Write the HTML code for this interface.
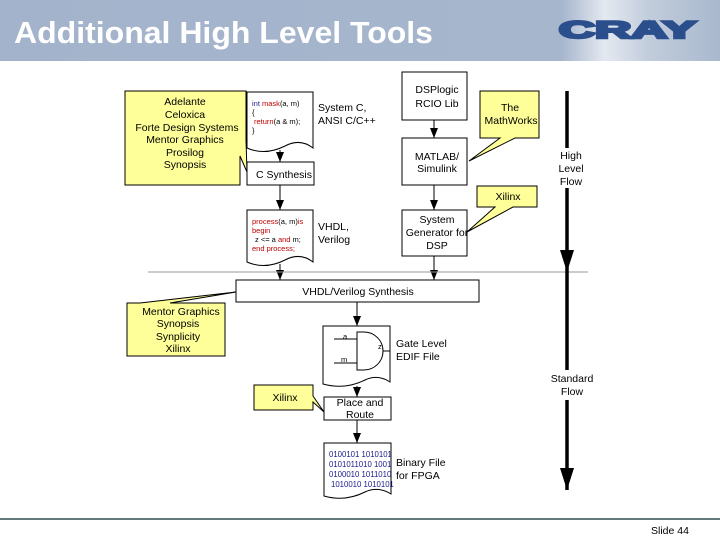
<!DOCTYPE html>
<html><head><meta charset="utf-8"><style>
html,body{margin:0;padding:0;background:#fff;}
svg{display:block;font-family:"Liberation Sans",Arial,sans-serif;}
</style></head><body>
<svg width="720" height="540" viewBox="0 0 720 540" xmlns="http://www.w3.org/2000/svg">
<defs>
<linearGradient id="hg" x1="0" x2="1" y1="0" y2="0">
<stop offset="0" stop-color="#a3b3cb"/><stop offset="0.78" stop-color="#a6b6cd"/>
<stop offset="0.84" stop-color="#e4e9f0"/><stop offset="0.9" stop-color="#c2cddc"/><stop offset="1" stop-color="#a9b8ce"/>
</linearGradient>
<marker id="ar" markerWidth="10" markerHeight="8" refX="10" refY="4" orient="auto" markerUnits="userSpaceOnUse">
<path d="M0,0 L10,4 L0,8 Z" fill="#000"/></marker>
<marker id="ab" markerWidth="22" markerHeight="14" refX="22" refY="7" orient="auto" markerUnits="userSpaceOnUse">
<path d="M0,0 L22,7 L0,14 Z" fill="#000"/></marker>
</defs>
<rect x="0" y="0" width="720" height="61" fill="url(#hg)"/>
<text x="14" y="43" font-size="31" font-weight="bold" fill="#fff" textLength="419" lengthAdjust="spacingAndGlyphs">Additional High Level Tools</text>
<text x="559" y="38" font-size="24" font-weight="900" fill="#2b4f8c" stroke="#2b4f8c" stroke-width="2.5" textLength="137" lengthAdjust="spacingAndGlyphs">CRAY</text>

<g stroke="#000" stroke-width="1" fill="#fff" font-size="10.5">
<path d="M125,91 H246 V140 L247,172 L240,156 V185 H125 Z" fill="#ffff99"/>
<path d="M247,92 H313 V148 Q300,138 285,146 Q265,156 247,148 Z"/>
<rect x="247" y="162" width="67" height="23"/>
<path d="M247,210 H313 V262 Q300,252 285,260 Q265,270 247,262 Z"/>
<rect x="402" y="72" width="65" height="48"/>
<rect x="402" y="138" width="65" height="47"/>
<rect x="402" y="210" width="65" height="46"/>
<path d="M480,91 H539 V138 H515 L469,161 L500,138 H480 Z" fill="#ffff99"/>
<path d="M477,186 H537 V207 H513 L467,232 L495,207 H477 Z" fill="#ffff99"/>
<rect x="236" y="280" width="243" height="22"/>
<path d="M127,303 H140 L236,292 L170,303 H225 V356 H127 Z" fill="#ffff99"/>
<path d="M323,326 H390 V382 Q378,374 365,380 Q345,390 323,384 Z"/>
<rect x="324" y="397" width="67" height="23"/>
<path d="M254,385 H313 V396 L324,412 L313,402 V410 H254 Z" fill="#ffff99"/>
<path d="M324,443 H391 V494 Q378,486 365,492 Q345,502 324,496 Z"/>
</g>
<g stroke="#000" stroke-width="1" fill="none">
<line x1="280" y1="150" x2="280" y2="162" marker-end="url(#ar)"/>
<line x1="280" y1="185" x2="280" y2="210" marker-end="url(#ar)"/>
<line x1="280" y1="264" x2="280" y2="280" marker-end="url(#ar)"/>
<line x1="434" y1="120" x2="434" y2="138" marker-end="url(#ar)"/>
<line x1="434" y1="185" x2="434" y2="210" marker-end="url(#ar)"/>
<line x1="434" y1="256" x2="434" y2="280" marker-end="url(#ar)"/>
<line x1="357" y1="302" x2="357" y2="326" marker-end="url(#ar)"/>
<line x1="357" y1="386" x2="357" y2="397" marker-end="url(#ar)"/>
<line x1="357" y1="420" x2="357" y2="443" marker-end="url(#ar)"/>
<line x1="334" y1="339" x2="357" y2="339"/><line x1="334" y1="363" x2="357" y2="363"/>
<path d="M357,332 H364 A19,19 0 0 1 364,370 H357 Z"/>
<line x1="383" y1="351" x2="390" y2="351"/>
</g>
<line x1="148" y1="272" x2="588" y2="272" stroke="#999" stroke-width="1"/>
<line x1="0" y1="519" x2="720" y2="519" stroke="#2f4f4f" stroke-width="1.5"/>
<g stroke="#000" stroke-width="3.5">
<line x1="567" y1="91" x2="567" y2="148"/>
<line x1="567" y1="188" x2="567" y2="272" marker-end="url(#ab)"/>
<line x1="567" y1="272" x2="567" y2="370"/>
<line x1="567" y1="400" x2="567" y2="490" marker-end="url(#ab)"/>
</g>
<g font-size="10.5" fill="#000" text-anchor="middle">
<text x="185" y="105">Adelante</text><text x="185" y="118">Celoxica</text>
<text x="187" y="131">Forte Design Systems</text><text x="185" y="143">Mentor Graphics</text>
<text x="185" y="156">Prosilog</text><text x="185" y="168">Synopsis</text>
<text x="284" y="178">C Synthesis</text>
<text x="437" y="93">DSPlogic</text><text x="437" y="107">RCIO Lib</text>
<text x="510" y="111">The</text><text x="511" y="124">MathWorks</text>
<text x="437" y="160">MATLAB/</text><text x="437" y="172">Simulink</text>
<text x="508" y="200">Xilinx</text>
<text x="437" y="223">System</text><text x="437" y="236">Generator for</text><text x="437" y="249">DSP</text>
<text x="571" y="159">High</text><text x="571" y="172">Level</text><text x="571" y="185">Flow</text>
<text x="358" y="295">VHDL/Verilog Synthesis</text>
<text x="181" y="315">Mentor Graphics</text><text x="178" y="327">Synopsis</text>
<text x="178" y="340">Synplicity</text><text x="178" y="352">Xilinx</text>
<text x="285" y="401">Xilinx</text>
<text x="360" y="406">Place and</text><text x="360" y="418">Route</text>
<text x="572" y="382">Standard</text><text x="572" y="395">Flow</text>
</g>
<g font-size="10.5" fill="#000">
<text x="318" y="111">System C,</text><text x="318" y="124">ANSI  C/C++</text>
<text x="318" y="230">VHDL,</text><text x="318" y="243">Verilog</text>
<text x="396" y="347">Gate Level</text><text x="396" y="360">EDIF File</text>
<text x="396" y="466">Binary File</text><text x="396" y="479">for FPGA</text>
<text x="651" y="534">Slide 44</text>
</g>
<g font-size="7.5">
<text x="252" y="106" fill="#000"><tspan fill="#1a1a8c">int </tspan><tspan fill="#c00000">mask</tspan>(a, m)</text>
<text x="252" y="115">{</text>
<text x="254" y="124"><tspan fill="#c00000">return</tspan>(a &amp; m);</text>
<text x="252" y="133">}</text>
<text x="252" y="224"><tspan fill="#c00000">process</tspan>(a, m)<tspan fill="#c00000">is</tspan></text>
<text x="252" y="233" fill="#c00000">begin</text>
<text x="255" y="242">z &lt;= a <tspan fill="#c00000">and</tspan> m;</text>
<text x="252" y="251" fill="#c00000">end process;</text>
<text x="343" y="339">a</text><text x="341" y="362">m</text><text x="378" y="349">z</text>
<g fill="#1a1a8c" font-size="7.8">
<text x="329" y="457">0100101 1010101</text><text x="329" y="467">0101011010 1001</text>
<text x="329" y="477">0100010 1011010</text><text x="331" y="487">1010010 1010101</text>
</g>
</g>
</svg>
</body></html>
